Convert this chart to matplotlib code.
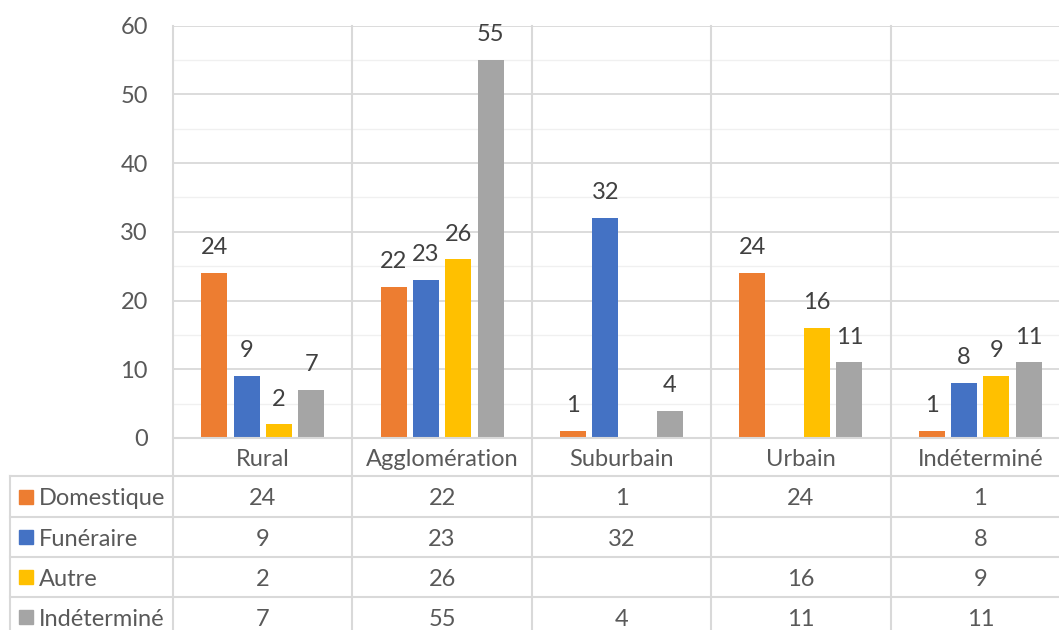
import matplotlib
matplotlib.use('Agg')
import matplotlib.pyplot as plt
from matplotlib.transforms import blended_transform_factory
from matplotlib.lines import Line2D
from matplotlib.patches import Rectangle

categories = ['Rural', 'Agglomération', 'Suburbain', 'Urbain', 'Indéterminé']
series_names = ['Domestique', 'Funéraire', 'Autre', 'Indéterminé']
domestique = [24, 22, 1, 24, 1]
funeraire = [9, 23, 32, None, 8]
autre = [2, 26, None, 16, 9]
indetermine = [7, 55, 4, 11, 11]
y_ticks = [0, 10, 20, 30, 40, 50, 60]

series = [domestique, funeraire, autre, indetermine]
colors = ['#ED7D31', '#4472C4', '#FFC000', '#A5A5A5']

FONT = 'Lato'
FS = 17
TXT = '#595959'
LBL = '#404040'
GRID = '#D9D9D9'
MINOR = '#F0F0F0'

W, H = 1059, 630
fig = plt.figure(figsize=(W / 100, H / 100), dpi=100)


def fx(px):
    return px / W


def fy(py):
    return 1 - py / H


ax_left, ax_right, ax_top, ax_bot = 173, 1070, 25.7, 438
ax = fig.add_axes([fx(ax_left), fy(ax_bot), (ax_right - ax_left) / W, (ax_bot - ax_top) / H])
n = len(categories)
ax.set_xlim(-0.5, n - 0.5)
ax.set_ylim(0, 60)

pitch = 0.18
bw = 0.145
for i, (vals, col) in enumerate(zip(series, colors)):
    off = (i - 1.5) * pitch
    for c, v in enumerate(vals):
        if v is None:
            continue
        ax.bar(c + off, v, width=bw, color=col, zorder=3)
        ax.annotate(str(v), (c + off, v), xytext=(0, 13.5), textcoords='offset points',
                    ha='center', va='baseline', fontsize=FS, color=LBL, family=FONT,
                    annotation_clip=False)

# gridlines
for y in range(5, 60, 10):
    ax.axhline(y, color=MINOR, lw=1.0, zorder=1)
for y in y_ticks[1:]:
    ax.axhline(y, color=GRID, lw=1.3, zorder=1)
ax.set_yticks(y_ticks)
ax.set_yticklabels([str(t) for t in y_ticks], fontsize=FS, color=TXT, family=FONT)
ax.tick_params(axis='y', length=0, pad=18)
ax.set_xticks([])
for s in ax.spines.values():
    s.set_visible(False)

# table geometry
bt = blended_transform_factory(ax.transData, fig.transFigure)
row_edges = [438, 476, 517, 557, 597, 637]
table_left = 10

# horizontal lines
fig.add_artist(Line2D([fx(ax_left), fx(1080)], [fy(438), fy(438)], color=GRID, lw=1.5, zorder=5))
for ry in row_edges[1:]:
    fig.add_artist(Line2D([fx(table_left), fx(1080)], [fy(ry), fy(ry)], color=GRID, lw=1.5, zorder=5))
# vertical lines (category boundaries) through plot and table
for b in range(n + 1):
    xb = b - 0.5
    fig.add_artist(Line2D([xb, xb], [fy(ax_top), fy(640)], color=GRID, lw=1.5,
                          transform=bt, zorder=5))
fig.add_artist(Line2D([fx(table_left), fx(table_left)], [fy(476), fy(640)], color=GRID, lw=1.5, zorder=5))

# category labels
cy = (row_edges[0] + row_edges[1]) / 2
for c, name in enumerate(categories):
    fig.text(c, fy(cy), name, transform=bt, ha='center', va='center_baseline',
             fontsize=FS, color=TXT, family=FONT)

# rows
for r, (name, vals, col) in enumerate(zip(series_names, series, colors)):
    ry = (row_edges[r + 1] + row_edges[r + 2]) / 2
    fig.add_artist(Rectangle((fx(19), fy(ry + 7)), 14 / W, 14 / H, color=col,
                             transform=fig.transFigure, zorder=6))
    fig.text(fx(39), fy(ry), name, ha='left', va='center_baseline', fontsize=FS,
             color=TXT, family=FONT)
    for c, v in enumerate(vals):
        if v is None:
            continue
        fig.text(c, fy(ry), str(v), transform=bt, ha='center', va='center_baseline',
                 fontsize=FS, color=TXT, family=FONT)

fig.savefig('out.png', dpi=100, facecolor='white')
